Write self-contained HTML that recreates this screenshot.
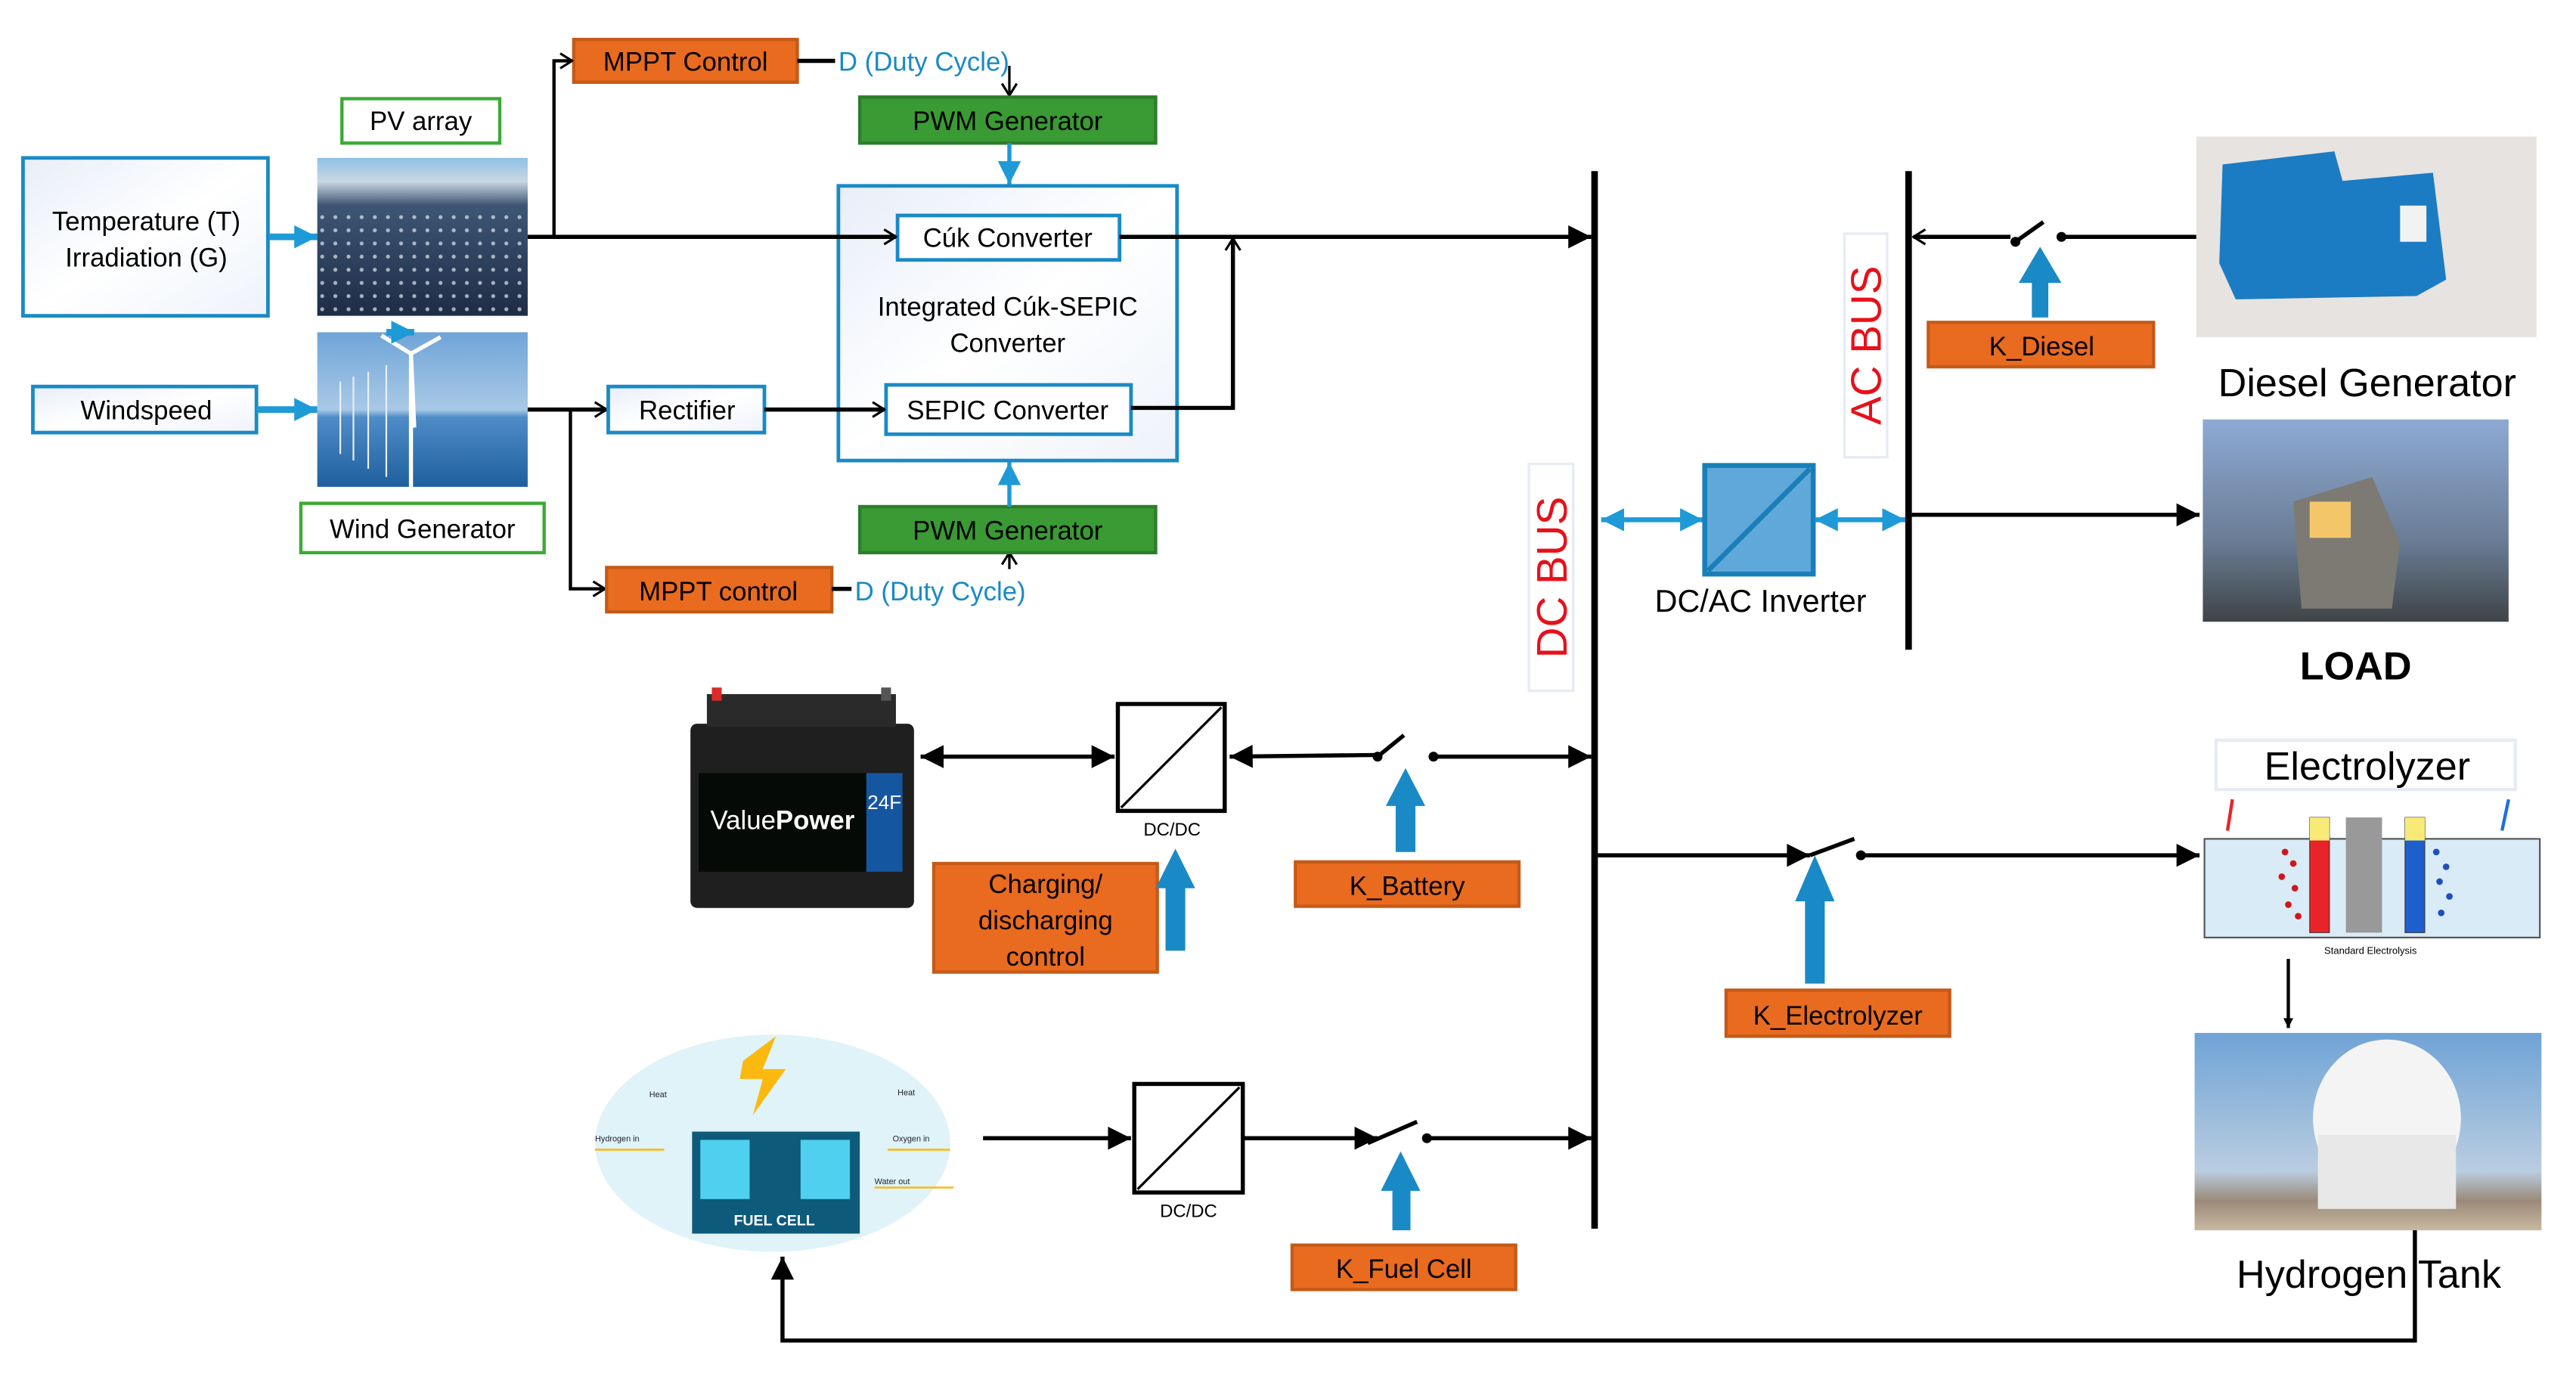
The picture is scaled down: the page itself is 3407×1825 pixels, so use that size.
<!DOCTYPE html>
<html><head><meta charset="utf-8"><style>
html,body{margin:0;padding:0;background:#fff;}
svg{display:block;}
text{font-family:"Liberation Sans Narrow","Liberation Sans",sans-serif;}
</style></head><body>
<svg width="3407" height="1825" viewBox="0 0 1567 839" preserveAspectRatio="none" xmlns="http://www.w3.org/2000/svg">
<defs>
<marker id="fa" viewBox="0 0 10 10" refX="10" refY="5" markerWidth="6" markerHeight="6" orient="auto-start-reverse" markerUnits="userSpaceOnUse"><path d="M0,0 L10,5 L0,10z" fill="#000"/></marker>
<marker id="big" viewBox="0 0 10 10" refX="10" refY="5" markerWidth="16" markerHeight="14" orient="auto-start-reverse" markerUnits="userSpaceOnUse"><path d="M0,0 L10,5 L0,10z" fill="#000"/></marker>
<marker id="ch" viewBox="0 0 10 10" refX="9" refY="5" markerWidth="9" markerHeight="12" orient="auto" markerUnits="userSpaceOnUse"><path d="M1,0 L9,5 L1,10" fill="none" stroke="#000" stroke-width="1.6"/></marker>
<marker id="ba" viewBox="0 0 10 10" refX="10" refY="5" markerWidth="14" markerHeight="16" orient="auto-start-reverse" markerUnits="userSpaceOnUse"><path d="M0,0 L10,5 L0,10z" fill="#1e9ad6"/></marker>
<linearGradient id="lg" x1="0" y1="0" x2="1" y2="1"><stop offset="0" stop-color="#e8eef8"/><stop offset="0.5" stop-color="#fff"/><stop offset="1" stop-color="#eef3fa"/></linearGradient>
<linearGradient id="pv" x1="0" y1="0" x2="0" y2="1"><stop offset="0" stop-color="#8fc1e6"/><stop offset="0.15" stop-color="#c9d6e2"/><stop offset="0.3" stop-color="#3e5675"/><stop offset="1" stop-color="#1d2c45"/></linearGradient>
<pattern id="cells" width="8" height="8" patternUnits="userSpaceOnUse"><circle cx="4" cy="4" r="1.2" fill="#dfe7f0"/></pattern>
<linearGradient id="wind" x1="0" y1="0" x2="0" y2="1"><stop offset="0" stop-color="#6fa4d8"/><stop offset="0.5" stop-color="#a9c9e6"/><stop offset="0.55" stop-color="#4f8cc8"/><stop offset="1" stop-color="#1f5f9e"/></linearGradient>
<linearGradient id="tank" x1="0" y1="0" x2="0" y2="1"><stop offset="0" stop-color="#6fa3d6"/><stop offset="0.7" stop-color="#b9cde0"/><stop offset="0.85" stop-color="#9a8a78"/><stop offset="1" stop-color="#c9b9a0"/></linearGradient>
<linearGradient id="house" x1="0" y1="0" x2="0" y2="1"><stop offset="0" stop-color="#8da9d4"/><stop offset="0.6" stop-color="#6a7d95"/><stop offset="1" stop-color="#3f4447"/></linearGradient>
</defs>

<rect x="14" y="96" width="149" height="96" fill="url(#lg)" stroke="#1a8ac6" stroke-width="2.2"/>
<text x="89" y="140" font-size="16" text-anchor="middle">Temperature (T)</text>
<text x="89" y="162" font-size="16" text-anchor="middle">Irradiation (G)</text>
<line x1="164" y1="144" x2="193" y2="144" stroke="#1e9ad6" stroke-width="4" marker-end="url(#ba)"/>

<rect x="208" y="60" width="96" height="27" fill="#fff" stroke="#3aaa35" stroke-width="2"/>
<text x="256" y="79" font-size="16" text-anchor="middle">PV array</text>
<rect x="193" y="96" width="128" height="96" fill="url(#pv)"/>
<rect x="193" y="126" width="128" height="66" fill="url(#cells)" opacity="0.7"/>

<rect x="20" y="235" width="136" height="28" fill="url(#lg)" stroke="#1a8ac6" stroke-width="2.2"/>
<text x="89" y="255" font-size="16" text-anchor="middle">Windspeed</text>
<line x1="156" y1="249" x2="193" y2="249" stroke="#1e9ad6" stroke-width="4" marker-end="url(#ba)"/>
<rect x="193" y="202" width="128" height="94" fill="url(#wind)"/>
<g stroke="#fff" stroke-width="2.5"><line x1="250" y1="215" x2="250" y2="296"/><line x1="250" y1="215" x2="232" y2="204"/><line x1="250" y1="215" x2="268" y2="205"/><line x1="250" y1="215" x2="252" y2="260"/></g>
<g stroke="#e8f0f8" stroke-width="1"><line x1="235" y1="222" x2="235" y2="290"/><line x1="224" y1="226" x2="224" y2="285"/><line x1="215" y1="229" x2="215" y2="280"/><line x1="207" y1="232" x2="207" y2="276"/></g>
<line x1="235" y1="202" x2="252" y2="202" stroke="#1e9ad6" stroke-width="4" marker-end="url(#ba)"/>
<rect x="183" y="306" width="148" height="30" fill="#fff" stroke="#3aaa35" stroke-width="2"/>
<text x="257" y="327" font-size="16" text-anchor="middle">Wind Generator</text>

<rect x="349" y="24" width="136" height="26" fill="#e96b1f" stroke="#c55a17" stroke-width="2"/>
<text x="417" y="43" font-size="16" text-anchor="middle">MPPT Control</text>
<line x1="485" y1="37" x2="508" y2="37" stroke="#000" stroke-width="2.5"/>
<text x="510" y="43" font-size="16" fill="#1a8ac6">D (Duty Cycle)</text>
<line x1="614" y1="40" x2="614" y2="58" stroke="#000" stroke-width="1.5" marker-end="url(#ch)"/>
<rect x="523" y="59" width="180" height="28" fill="#3a9a34" stroke="#2d7d2a" stroke-width="2"/>
<text x="613" y="79" font-size="16" text-anchor="middle">PWM Generator</text>
<line x1="614" y1="87" x2="614" y2="112" stroke="#1e9ad6" stroke-width="2.5" marker-end="url(#ba)"/>

<rect x="510" y="113" width="206" height="167" fill="url(#lg)" stroke="#1a8ac6" stroke-width="2.2"/>
<rect x="546" y="131" width="135" height="27" fill="#fff" stroke="#1a8ac6" stroke-width="2.2"/>
<text x="613" y="150" font-size="16" text-anchor="middle">Cúk Converter</text>
<text x="613" y="192" font-size="16" text-anchor="middle">Integrated Cúk-SEPIC</text>
<text x="613" y="214" font-size="16" text-anchor="middle">Converter</text>
<rect x="539" y="234" width="149" height="30" fill="#fff" stroke="#1a8ac6" stroke-width="2.2"/>
<text x="613" y="255" font-size="16" text-anchor="middle">SEPIC Converter</text>

<line x1="321" y1="144" x2="545" y2="144" stroke="#000" stroke-width="2.5" marker-end="url(#ch)"/>
<polyline points="337,144 337,37 348,37" fill="none" stroke="#000" stroke-width="2" marker-end="url(#ch)"/>
<line x1="681" y1="144" x2="968" y2="144" stroke="#000" stroke-width="2.5" marker-end="url(#big)"/>
<polyline points="688,248 750,248 750,145" fill="none" stroke="#000" stroke-width="2.5" marker-end="url(#ch)"/>

<line x1="321" y1="249" x2="369" y2="249" stroke="#000" stroke-width="2.5" marker-end="url(#ch)"/>
<rect x="370" y="235" width="95" height="28" fill="url(#lg)" stroke="#1a8ac6" stroke-width="2.2"/>
<text x="418" y="255" font-size="16" text-anchor="middle">Rectifier</text>
<line x1="465" y1="249" x2="538" y2="249" stroke="#000" stroke-width="2.5" marker-end="url(#ch)"/>
<polyline points="347,249 347,358 368,358" fill="none" stroke="#000" stroke-width="2" marker-end="url(#ch)"/>
<rect x="369" y="345" width="137" height="27" fill="#e96b1f" stroke="#c55a17" stroke-width="2"/>
<text x="437" y="365" font-size="16" text-anchor="middle">MPPT control</text>
<line x1="506" y1="358" x2="518" y2="358" stroke="#000" stroke-width="2.5"/>
<text x="520" y="365" font-size="16" fill="#1a8ac6">D (Duty Cycle)</text>
<line x1="614" y1="346" x2="614" y2="336" stroke="#000" stroke-width="1.5" marker-end="url(#ch)"/>
<rect x="523" y="308" width="180" height="28" fill="#3a9a34" stroke="#2d7d2a" stroke-width="2"/>
<text x="613" y="328" font-size="16" text-anchor="middle">PWM Generator</text>
<line x1="614" y1="308" x2="614" y2="281" stroke="#1e9ad6" stroke-width="2.5" marker-end="url(#ba)"/>

<line x1="970" y1="104" x2="970" y2="747" stroke="#000" stroke-width="4"/>
<rect x="930" y="282" width="27" height="138" fill="#fff" stroke="#e6ebf4" stroke-width="1.5"/>
<text transform="translate(953,351) rotate(-90)" font-size="26" fill="#e8101a" text-anchor="middle" font-family="Liberation Sans,sans-serif">DC BUS</text>

<line x1="1161" y1="104" x2="1161" y2="395" stroke="#000" stroke-width="4"/>
<rect x="1122" y="142" width="26" height="136" fill="#fff" stroke="#e6ebf4" stroke-width="1.5"/>
<text transform="translate(1144,210) rotate(-90)" font-size="26" fill="#e8101a" text-anchor="middle" font-family="Liberation Sans,sans-serif">AC BUS</text>

<line x1="974" y1="316" x2="1036" y2="316" stroke="#1e9ad6" stroke-width="3" marker-start="url(#ba)" marker-end="url(#ba)"/>
<rect x="1037" y="283" width="66" height="66" fill="#5fa8da" stroke="#1a7fb8" stroke-width="3"/>
<line x1="1039" y1="347" x2="1101" y2="285" stroke="#1a7fb8" stroke-width="3"/>
<line x1="1104" y1="316" x2="1159" y2="316" stroke="#1e9ad6" stroke-width="3" marker-start="url(#ba)" marker-end="url(#ba)"/>
<text x="1071" y="372" font-size="19" text-anchor="middle">DC/AC Inverter</text>

<rect x="1336" y="83" width="207" height="122" fill="#e7e3e0"/>
<path d="M1352,100 L1420,92 L1425,110 L1480,105 L1488,170 L1470,180 L1360,182 L1350,160z" fill="#1b7cc4"/>
<rect x="1460" y="125" width="16" height="22" fill="#f2f2f2"/>
<line x1="1336" y1="144" x2="1256" y2="144" stroke="#000" stroke-width="2.5"/>
<circle cx="1254" cy="144" r="3" fill="#000"/>
<circle cx="1226" cy="147" r="3" fill="#000"/>
<line x1="1226" y1="147" x2="1243" y2="135" stroke="#000" stroke-width="2.5"/>
<line x1="1223" y1="144" x2="1164" y2="144" stroke="#000" stroke-width="2.5" marker-end="url(#ch)"/>
<polygon points="1236,193 1246,193 1246,172 1254,172 1241,150 1228,172 1236,172" fill="#1a8ac6"/>
<rect x="1173" y="196" width="137" height="27" fill="#e96b1f" stroke="#c55a17" stroke-width="2"/>
<text x="1242" y="216" font-size="16" text-anchor="middle">K_Diesel</text>
<text x="1440" y="241" font-size="24" text-anchor="middle">Diesel Generator</text>

<line x1="1163" y1="313" x2="1338" y2="313" stroke="#000" stroke-width="2.5" marker-end="url(#big)"/>
<rect x="1340" y="255" width="186" height="123" fill="url(#house)"/>
<polygon points="1395,305 1443,290 1460,330 1455,370 1400,370" fill="#7c7a72"/>
<rect x="1405" y="305" width="25" height="22" fill="#f3c66a"/>
<text x="1433" y="413" font-size="24" font-weight="bold" text-anchor="middle">LOAD</text>

<rect x="420" y="440" width="136" height="112" rx="4" fill="#1f1f1f"/>
<rect x="430" y="422" width="115" height="20" fill="#2a2a2a"/>
<rect x="433" y="418" width="6" height="8" fill="#d92b2b"/>
<rect x="536" y="418" width="6" height="8" fill="#555"/>
<rect x="425" y="470" width="102" height="60" fill="#050a06"/>
<rect x="527" y="470" width="22" height="60" fill="#1456a0"/>
<text x="476" y="504" font-size="16" fill="#fff" text-anchor="middle">Value<tspan font-weight="bold">Power</tspan></text>
<text x="538" y="492" font-size="12" fill="#fff" text-anchor="middle">24F</text>
<line x1="560" y1="460" x2="678" y2="460" stroke="#000" stroke-width="2.5" marker-start="url(#big)" marker-end="url(#big)"/>
<rect x="680" y="428" width="65" height="65" fill="#fff" stroke="#000" stroke-width="2.5"/>
<line x1="682" y1="491" x2="743" y2="430" stroke="#000" stroke-width="1.5"/>
<text x="713" y="508" font-size="11" text-anchor="middle">DC/DC</text>
<line x1="838" y1="459" x2="748" y2="460" stroke="#000" stroke-width="2.5" marker-end="url(#big)"/>
<circle cx="838" cy="460" r="3" fill="#000"/>
<line x1="838" y1="460" x2="854" y2="447" stroke="#000" stroke-width="2.5"/>
<circle cx="872" cy="460" r="3" fill="#000"/>
<line x1="872" y1="460" x2="968" y2="460" stroke="#000" stroke-width="2.5" marker-end="url(#big)"/>
<rect x="568" y="525" width="136" height="66" fill="#e96b1f" stroke="#c55a17" stroke-width="2"/>
<text x="636" y="543" font-size="16" text-anchor="middle">Charging/</text>
<text x="636" y="565" font-size="16" text-anchor="middle">discharging</text>
<text x="636" y="587" font-size="16" text-anchor="middle">control</text>
<polygon points="709,578 721,578 721,540 727,540 715,516 703,540 709,540" fill="#1a8ac6"/>
<polygon points="849,518 861,518 861,490 867,490 855,467 843,490 849,490" fill="#1a8ac6"/>
<rect x="788" y="524" width="136" height="27" fill="#e96b1f" stroke="#c55a17" stroke-width="2"/>
<text x="856" y="544" font-size="16" text-anchor="middle">K_Battery</text>

<line x1="972" y1="520" x2="1101" y2="520" stroke="#000" stroke-width="2.5" marker-end="url(#big)"/>
<line x1="1101" y1="520" x2="1128" y2="510" stroke="#000" stroke-width="2.5"/>
<circle cx="1132" cy="520" r="3" fill="#000"/>
<line x1="1132" y1="520" x2="1338" y2="520" stroke="#000" stroke-width="2.5" marker-end="url(#big)"/>
<polygon points="1098,598 1110,598 1110,548 1116,548 1104,520 1092,548 1098,548" fill="#1a8ac6"/>
<rect x="1050" y="602" width="136" height="28" fill="#e96b1f" stroke="#c55a17" stroke-width="2"/>
<text x="1118" y="623" font-size="16" text-anchor="middle">K_Electrolyzer</text>
<rect x="1348" y="450" width="182" height="30" fill="#fff" stroke="#e6ebf4" stroke-width="2"/>
<text x="1440" y="474" font-size="24" text-anchor="middle">Electrolyzer</text>
<rect x="1341" y="510" width="204" height="60" fill="#d9ebf6" stroke="#555" stroke-width="1"/>
<rect x="1405" y="497" width="12" height="70" fill="#e8232a" stroke="#333" stroke-width="0.5"/>
<rect x="1405" y="497" width="12" height="14" fill="#f7ea77"/>
<rect x="1427" y="497" width="22" height="70" fill="#999"/>
<rect x="1463" y="497" width="12" height="70" fill="#1e5fd0" stroke="#333" stroke-width="0.5"/>
<rect x="1463" y="497" width="12" height="14" fill="#f7ea77"/>
<g fill="#d0161c"><circle cx="1390" cy="518" r="2"/><circle cx="1395" cy="525" r="2"/><circle cx="1388" cy="533" r="2"/><circle cx="1396" cy="540" r="2"/><circle cx="1392" cy="550" r="2"/><circle cx="1398" cy="557" r="2"/></g>
<g fill="#1e4fc0"><circle cx="1482" cy="518" r="2"/><circle cx="1488" cy="527" r="2"/><circle cx="1484" cy="536" r="2"/><circle cx="1490" cy="545" r="2"/><circle cx="1485" cy="555" r="2"/></g>
<text x="1442" y="580" font-size="6" text-anchor="middle" font-family="Liberation Serif,serif">Standard Electrolysis</text>
<path d="M1355,505 L1358,486" stroke="#e8232a" stroke-width="2" fill="none"/>
<path d="M1522,505 L1526,486" stroke="#1e6fe0" stroke-width="2" fill="none"/>
<line x1="1392" y1="583" x2="1392" y2="625" stroke="#000" stroke-width="2" marker-end="url(#fa)"/>

<rect x="1335" y="628" width="211" height="120" fill="url(#tank)"/>
<ellipse cx="1452" cy="680" rx="45" ry="48" fill="#f4f4f4"/>
<rect x="1410" y="690" width="84" height="45" fill="#e8e8e8"/>
<text x="1441" y="783" font-size="24" text-anchor="middle">Hydrogen Tank</text>
<polyline points="1469,748 1469,815 476,815 476,764" fill="none" stroke="#000" stroke-width="2.5" marker-end="url(#big)"/>

<ellipse cx="470" cy="695" rx="108" ry="66" fill="#dff3f8"/>
<path d="M452,645 L472,630 L464,650 L478,650 L458,678 L464,656 L450,656z" fill="#fbb90f"/>
<rect x="421" y="688" width="102" height="62" fill="#0d5a7b"/>
<rect x="426" y="693" width="30" height="36" fill="#4fd0ee"/>
<rect x="487" y="693" width="30" height="36" fill="#4fd0ee"/>
<text x="471" y="745" font-size="9" font-weight="bold" fill="#fff" text-anchor="middle" font-family="Liberation Sans,sans-serif">FUEL CELL</text>
<text x="395" y="667" font-size="5" fill="#223">Heat</text><text x="546" y="666" font-size="5" fill="#223">Heat</text>
<text x="362" y="694" font-size="5" fill="#223">Hydrogen in</text><text x="543" y="694" font-size="5" fill="#223">Oxygen in</text>
<text x="532" y="720" font-size="5" fill="#223">Water out</text>
<line x1="362" y1="699" x2="404" y2="699" stroke="#fbb90f" stroke-width="1.2"/>
<line x1="540" y1="699" x2="578" y2="699" stroke="#fbb90f" stroke-width="1.2"/>
<line x1="532" y1="722" x2="580" y2="722" stroke="#fbb90f" stroke-width="1.2"/>
<line x1="598" y1="692" x2="688" y2="692" stroke="#000" stroke-width="2.5" marker-end="url(#big)"/>
<rect x="690" y="659" width="66" height="66" fill="#fff" stroke="#000" stroke-width="2.5"/>
<line x1="692" y1="723" x2="754" y2="661" stroke="#000" stroke-width="1.5"/>
<text x="723" y="740" font-size="11" text-anchor="middle">DC/DC</text>
<line x1="756" y1="692" x2="838" y2="692" stroke="#000" stroke-width="2.5" marker-end="url(#big)"/>
<line x1="832" y1="695" x2="862" y2="682" stroke="#000" stroke-width="2.5"/>
<circle cx="868" cy="692" r="3" fill="#000"/>
<line x1="868" y1="692" x2="968" y2="692" stroke="#000" stroke-width="2.5" marker-end="url(#big)"/>
<polygon points="847,748 858,748 858,724 864,724 852,700 840,724 847,724" fill="#1a8ac6"/>
<rect x="786" y="757" width="136" height="27" fill="#e96b1f" stroke="#c55a17" stroke-width="2"/>
<text x="854" y="777" font-size="16" text-anchor="middle">K_Fuel Cell</text>
</svg>
</body></html>
